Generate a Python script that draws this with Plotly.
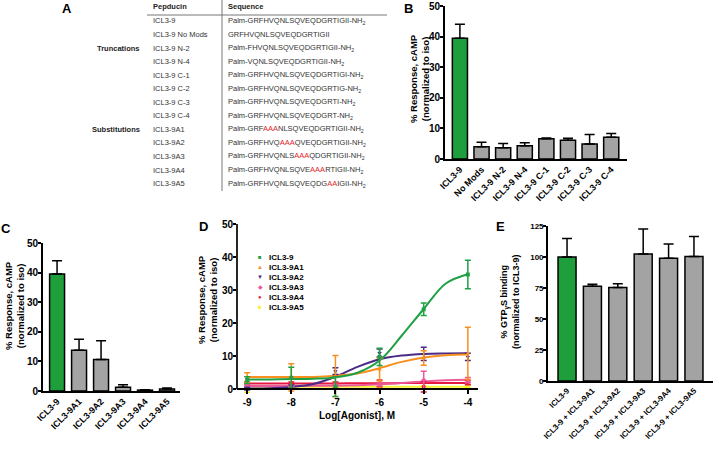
import plotly.graph_objects as go

W, H = 713, 450
FONT = "Liberation Sans, Arial, sans-serif"
GREEN = "#1f9e3c"
GREY = "#a3a3a3"

# ---------------- Panel A (table) ----------------
pepducins = ["ICL3-9", "ICL3-9 No Mods", "ICL3-9 N-2", "ICL3-9 N-4", "ICL3-9 C-1",
             "ICL3-9 C-2", "ICL3-9 C-3", "ICL3-9 C-4", "ICL3-9A1", "ICL3-9A2",
             "ICL3-9A3", "ICL3-9A4", "ICL3-9A5"]
R = '<span style="color:#e3262b">'
E_ = '</span>'
NH2 = "-NH<sub>2</sub>"
sequences = ["Palm-GRFHVQNLSQVEQDGRTIGII" + NH2,
             "GRFHVQNLSQVEQDGRTIGII",
             "Palm-FHVQNLSQVEQDGRTIGII" + NH2,
             "Palm-VQNLSQVEQDGRTIGII" + NH2,
             "Palm-GRFHVQNLSQVEQDGRTIGI" + NH2,
             "Palm-GRFHVQNLSQVEQDGRTIG" + NH2,
             "Palm-GRFHVQNLSQVEQDGRTI" + NH2,
             "Palm-GRFHVQNLSQVEQDGRT" + NH2,
             "Palm-GRF" + R + "AAA" + E_ + "NLSQVEQDGRTIGII" + NH2,
             "Palm-GRFHVQ" + R + "AAA" + E_ + "QVEQDGRTIGII" + NH2,
             "Palm-GRFHVQNLS" + R + "AAA" + E_ + "QDGRTIGII" + NH2,
             "Palm-GRFHVQNLSQVE" + R + "AAA" + E_ + "RTIGII" + NH2,
             "Palm-GRFHVQNLSQVEQDG" + R + "AA" + E_ + "IGII" + NH2]
groups = {2: "Truncations", 8: "Substitutions"}

# ---------------- Panel B ----------------
b_labels = ["ICL3-9", "No Mods", "ICL3-9 N-2", "ICL3-9 N-4", "ICL3-9 C-1",
            "ICL3-9 C-2", "ICL3-9 C-3", "ICL3-9 C-4"]
b_values = [39.5, 4.0, 3.7, 4.3, 6.6, 6.1, 4.9, 7.1]
b_errors = [4.5, 1.5, 1.4, 1.0, 0.3, 0.7, 3.1, 1.2]

# ---------------- Panel C ----------------
c_labels = ["ICL3-9", "ICL3-9A1", "ICL3-9A2", "ICL3-9A3", "ICL3-9A4", "ICL3-9A5"]
c_values = [39.5, 13.8, 10.6, 1.3, 0.3, 0.7]
c_errors = [4.5, 3.7, 6.4, 0.8, 0.1, 0.3]

# ---------------- Panel D ----------------
d_log = [-9, -8, -7, -6, -5, -4]
d_names = ["ICL3-9", "ICL3-9A1", "ICL3-9A2", "ICL3-9A3", "ICL3-9A4", "ICL3-9A5"]
d_colors = ["#1fa045", "#f7901e", "#4a2b86", "#ea5a9a", "#e8173f", "#f5f230"]
d_symbols = ["square", "triangle-up", "triangle-down", "diamond", "circle", "square"]
d_means = [[2.8, 3.5, 0.8, 9.8, 24.2, 34.7],
           [3.5, 3.6, 3.9, 6.0, 9.5, 10.9],
           [0.2, 0.8, 5.5, 11.0, 10.7, 9.8],
           [1.0, 1.0, 1.1, 1.5, 2.8, 2.8],
           [1.8, 1.9, 1.7, 1.8, 0.8, 2.0],
           [0.6, 0.8, 0.8, 0.8, 0.8, 0.8]]
d_errs = [[1.0, 3.2, 3.0, 2.6, 1.9, 4.3],
          [1.5, 4.1, 6.3, 3.5, 2.2, 7.9],
          [0.4, 0.5, 1.0, 1.2, 2.0, 1.1],
          [0.4, 0.4, 0.4, 0.5, 2.7, 0.8],
          [0.4, 0.3, 0.5, 1.0, 1.6, 0.6],
          [1.5, 0.3, 0.3, 0.3, 0.3, 0.3]]
d_fit_x = [-9, -8.5, -8, -7.5, -7, -6.5, -6, -5.5, -5, -4.5, -4]
d_fits = [[3.0, 3.0, 3.1, 3.2, 3.6, 5.0, 8.7, 16.2, 24.3, 32.0, 34.8],
          [3.7, 3.7, 3.7, 3.75, 4.1, 4.8, 6.4, 8.3, 9.6, 10.3, 10.5],
          [0.25, 0.3, 0.7, 1.6, 3.8, 6.8, 9.1, 10.2, 10.7, 10.85, 10.9],
          [1.0, 1.0, 1.0, 1.05, 1.1, 1.25, 1.5, 1.9, 2.4, 2.75, 2.9],
          [1.8, 1.8, 1.8, 1.8, 1.8, 1.85, 1.85, 1.9, 1.9, 1.95, 1.95],
          [0.8, 0.8, 0.8, 0.8, 0.8, 0.8, 0.8, 0.8, 0.8, 0.8, 0.8]]
d_legend_syms = ["■", "▲", "▼", "◆", "●", "■"]

# ---------------- Panel E ----------------
e_labels = ["ICL3-9", "ICL3-9 + ICL3-9A1", "ICL3-9 + ICL3-9A2", "ICL3-9 + ICL3-9A3",
            "ICL3-9 + ICL3-9A4", "ICL3-9 + ICL3-9A5"]
e_values = [100, 76.5, 75.5, 102.5, 99, 100.5]
e_errors = [15, 1.5, 3, 20, 11.5, 16]


def px(x):
    return x / W


def py(y):
    return 1 - y / H


fig = go.Figure()


def add_bars(labels, values, errors, xa, ya, width):
    colors = [GREEN] + [GREY] * (len(labels) - 1)
    fig.add_trace(go.Bar(
        x=labels, y=values, xaxis=xa, yaxis=ya, width=width,
        marker=dict(color=colors, line=dict(color="black", width=1.5)),
        error_y=dict(type="data", array=errors, symmetric=False,
                     arrayminus=[0] * len(errors), color="black",
                     thickness=1.5, width=5),
        showlegend=False, hoverinfo="x+y"))


add_bars(b_labels, b_values, b_errors, "x", "y", 0.7)
add_bars(c_labels, c_values, c_errors, "x2", "y2", 0.68)
add_bars(e_labels, e_values, e_errors, "x4", "y4", 0.71)

for i in reversed(range(len(d_names))):
    fig.add_trace(go.Scatter(
        x=d_fit_x, y=d_fits[i], xaxis="x3", yaxis="y3", mode="lines",
        line=dict(color=d_colors[i], width=2, shape="spline", smoothing=1.0),
        showlegend=False, hoverinfo="skip"))
for i in reversed(range(len(d_names))):
    fig.add_trace(go.Scatter(
        x=d_log, y=d_means[i], xaxis="x3", yaxis="y3", mode="markers",
        name=d_names[i],
        marker=dict(color=d_colors[i], symbol=d_symbols[i], size=4),
        error_y=dict(type="data", array=d_errs[i], color=d_colors[i],
                     thickness=1.5, width=3),
        showlegend=False))

tick_font = dict(family=FONT, size=10, color="black", weight="bold")
cat_font = dict(family=FONT, size=9, color="black", weight="bold")
e_font = dict(family=FONT, size=8, color="black", weight="bold")
line_kw = dict(showline=True, linecolor="black", linewidth=1.7, showgrid=False,
               zeroline=False, automargin=False)
yax_kw = dict(ticks="outside", ticklen=3, tickwidth=1.5, tickcolor="black",
              ticklabelstandoff=-2, **line_kw)

layout = dict(
    width=W, height=H, margin=dict(l=0, r=0, t=0, b=0),
    paper_bgcolor="white", plot_bgcolor="rgba(0,0,0,0)",
    font=dict(family=FONT, color="black"),
    bargap=0.3,
    xaxis=dict(domain=[px(445), px(627)], anchor="y", range=[-0.69, 7.73],
               tickangle=-45, tickfont=cat_font, ticks="", **line_kw),
    yaxis=dict(domain=[py(159), py(6)], anchor="x", range=[0, 50], tickvals=[0, 10, 20, 30, 40, 50],
               tickfont=tick_font, **yax_kw),
    xaxis2=dict(domain=[px(43), px(180)], anchor="y2", range=[-0.64, 5.59],
                tickangle=-45, tickfont=cat_font, ticks="", **line_kw),
    yaxis2=dict(domain=[py(391), py(243)], anchor="x2", range=[0, 50], tickvals=[0, 10, 20, 30, 40, 50],
                tickfont=tick_font, **yax_kw),
    xaxis3=dict(domain=[px(237), px(478)], anchor="free", position=py(389.3),
                range=[-9.23, -3.77], tickvals=d_log, ticktext=[str(v) for v in d_log],
                tickfont=tick_font, ticks="outside", ticklen=4, tickwidth=1.5,
                tickcolor="black", **line_kw),
    yaxis3=dict(domain=[py(397.6), py(224)], anchor="x3", range=[-2.5, 50],
                tickvals=[0, 10, 20, 30, 40, 50], tickfont=tick_font,
                ticks="outside", ticklen=3, tickwidth=1.5, tickcolor="black",
                ticklabelstandoff=-2,
                showline=False, showgrid=False, zeroline=False, automargin=False),
    xaxis4=dict(domain=[px(548), 1.0], anchor="y4", range=[-0.75, 5.75],
                tickangle=-45, tickfont=e_font, ticks="", **line_kw),
    yaxis4=dict(domain=[py(381), py(226)], anchor="x4", range=[0, 125],
                tickvals=[0, 25, 50, 75, 100, 125], tickfont=e_font, **yax_kw),
)
fig.update_layout(**layout)

# y-axis line for D (from 0 to 50 only)
fig.add_shape(type="line", xref="x3 domain", yref="y3", x0=0, x1=0, y0=0, y1=50,
              line=dict(color="black", width=1.7))

ann = []


def text(x, y, s, size=8, bold=False, xanchor="left", color="#222", angle=0, yanchor="middle"):
    ann.append(dict(x=px(x), y=py(y), xref="paper", yref="paper", text=s, showarrow=False,
                    xanchor=xanchor, yanchor=yanchor, textangle=angle,
                    font=dict(family=FONT, size=size, color=color,
                              weight="bold" if bold else "normal")))


# Panel letters
for lab, x, y in [("A", 67, 8), ("B", 408, 8), ("C", 6, 229), ("D", 203, 226), ("E", 500, 226)]:
    text(x, y, lab, size=13, bold=True, xanchor="center", color="black")

# Table
text(151, 7, "Pepducin", size=7.5, bold=True)
text(226, 7, "Sequence", size=7.5, bold=True)
for i, (p, s) in enumerate(zip(pepducins, sequences)):
    yy = 21 + i * 13.55
    text(151, yy, p, size=7.5, color="#333")
    text(226, yy, s, size=7.5, color="#333")
    if i in groups:
        text(142, yy, groups[i], size=7.5, bold=True, xanchor="right")
fig.add_shape(type="line", xref="paper", yref="paper", x0=px(147), x1=px(387),
              y0=py(15), y1=py(15), line=dict(color="#777", width=1))
fig.add_shape(type="line", xref="paper", yref="paper", x0=px(222), x1=px(222),
              y0=py(0), y1=py(191), line=dict(color="#777", width=1))

# Y-axis titles
ytitle = "<b>% Response, cAMP<br>(normalized to iso)</b>"
text(419, 78, ytitle, size=9.5, xanchor="center", color="black", angle=-90)
text(14, 306, ytitle, size=9.5, xanchor="center", color="black", angle=-90)
text(207, 300, ytitle, size=9.5, xanchor="center", color="black", angle=-90)
text(510, 302, "<b>% GTP<sub>γ</sub>S binding<br>(normalized to ICL3-9)</b>", size=9,
     xanchor="center", color="black", angle=-90)
text(357, 415, "<b>Log[Agonist], M</b>", size=10, xanchor="center", color="black")

# D legend
for i, n in enumerate(d_names):
    yy = 257 + i * 10
    text(260, yy, d_legend_syms[i], size=6, xanchor="center", color=d_colors[i])
    text(267, yy, "<b>" + n + "</b>", size=8, color="black")

fig.update_layout(annotations=ann)
fig.write_html("out.html", config={"displayModeBar": False},
               post_script="document.body.style.margin='0px';document.body.style.overflow='hidden';")
